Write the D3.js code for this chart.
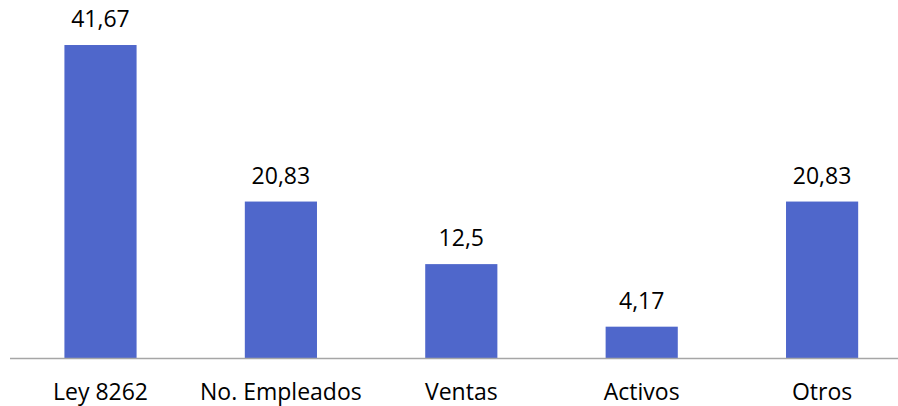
<!DOCTYPE html>
<html>
<head>
<meta charset="utf-8">
<script src="https://cdn.jsdelivr.net/npm/d3@7.9.0/dist/d3.min.js"></script>
<style>
  html, body { margin: 0; padding: 0; background: #fff; }
  svg text { font-family: "Open Sans", sans-serif; fill: #000; }
</style>
</head>
<body>
<div id="chart"></div>
<script>
const categories = ['Ley 8262', 'No. Empleados', 'Ventas', 'Activos', 'Otros'];
const values     = [41.67, 20.83, 12.5, 4.17, 20.83];
const valueLabels = ['41,67', '20,83', '12,5', '4,17', '20,83'];

const W = 898, H = 406;
const base = 358;

const x = d3.scaleBand()
  .domain(categories)
  .range([10.3, 912.3])
  .paddingInner(0.6)
  .paddingOuter(0.3);

const y = d3.scaleLinear()
  .domain([0, 45])
  .range([base, base - 45 * 7.511]);

const svg = d3.select('#chart').append('svg')
  .attr('width', W).attr('height', H);

const data = categories.map((c, i) => ({c, v: values[i], label: valueLabels[i]}));

svg.append('g').selectAll('rect')
  .data(data)
  .join('rect')
    .attr('x', d => x(d.c))
    .attr('y', d => y(d.v))
    .attr('width', x.bandwidth())
    .attr('height', d => y(0) - y(d.v))
    .attr('fill', '#4f67cb');

svg.append('g').selectAll('text')
  .data(data)
  .join('text')
    .attr('x', d => x(d.c) + x.bandwidth() / 2)
    .attr('y', d => y(d.v) - 18)
    .attr('text-anchor', 'middle')
    .attr('font-size', 23)
    .text(d => d.label);

const axis = svg.append('g')
  .attr('transform', `translate(0,${base})`)
  .call(d3.axisBottom(x).tickSize(0).tickPadding(26));
axis.select('.domain').attr('stroke', '#a6a6a6').attr('stroke-width', 1.5)
  .attr('d', `M10,0.5H${W}`);
axis.selectAll('text').attr('font-size', 23).attr('dy', 0)
  .attr('y', 41.5).attr('font-family', '"Open Sans", sans-serif').attr('fill', '#000');
</script>
</body>
</html>
